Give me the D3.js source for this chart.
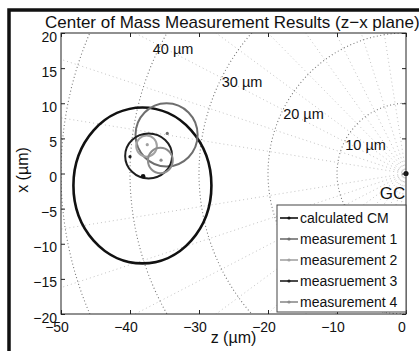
<!DOCTYPE html>
<html>
<head>
<meta charset="utf-8">
<script src="https://cdn.jsdelivr.net/npm/d3@7"></script>
<style>
  html, body { margin: 0; padding: 0; background: #fff; }
  svg { display: block; font-family: "Liberation Sans", Arial, sans-serif; }
</style>
</head>
<body>
<div class="cm-plot"></div>
<script>
// series (units: µm)
const seriesNames = ['calculated CM', 'measurement 1', 'measurement 2', 'measruement 3', 'measurement 4'];
const seriesColors = ['#111', '#6e6e6e', '#a2a2a2', '#1e1e1e', '#8c8c8c'];
const circleZ = [-38.2, -34.7, -37.6, -37.3, -35.6];
const circleX = [-1.7, 5.5, 3.9, 2.5, 1.85];
const radiusZ = [10.0, 4.5, 1.5, 3.4, 1.8];
const radiusX = [11.1, 4.5, 1.5, 3.2, 1.8];
const pointZ = [-38.1, -34.6, -37.5, -40.0, -35.5];
const pointX = [-0.4, 5.7, 4.1, 2.4, 1.9];

// distance rings around GC
const ringRadii = [10, 20, 30, 40, 50];
const ringLabels = ['10 µm', '20 µm', '30 µm', '40 µm'];
const ringLabelZ = [-8.8, -17.8, -26.7, -36.7];
const ringLabelX = [3.3, 7.7, 12.3, 17.0];
const spokeAngles = [-81, -72, -63, -54, -45, -36, -27, -18, -9, 9, 18, 27, 36, 45, 54, 63, 72, 81];

const zTicks = [-50, -40, -30, -20, -10, 0];
const xTicks = [-20, -15, -10, -5, 0, 5, 10, 15, 20];

const W = 419, H = 351;
const plotLeft = 61, plotRight = 406, plotTop = 33, plotBottom = 314;

const svg = d3.select('.cm-plot').append('svg')
  .attr('width', W).attr('height', H);

const zScale = d3.scaleLinear().domain([-50, 0]).range([plotLeft, plotRight]);
const xScale = d3.scaleLinear().domain([-20, 20]).range([plotBottom, plotTop]);
const kz = zScale(1) - zScale(0);
const kx = xScale(0) - xScale(1);

// outer figure frame (scan is cropped on right/bottom)
svg.append('rect')
  .attr('x', 9).attr('y', 10)
  .attr('width', W + 20).attr('height', H + 20)
  .attr('fill', '#fff').attr('stroke', '#111').attr('stroke-width', 3.5);

svg.append('defs').append('clipPath').attr('id', 'plotClip')
  .append('rect').attr('x', plotLeft).attr('y', plotTop)
  .attr('width', plotRight - plotLeft).attr('height', plotBottom - plotTop);

const grid = svg.append('g').attr('clip-path', 'url(#plotClip)');

grid.selectAll('line.spoke')
  .data(spokeAngles)
  .enter().append('line')
  .attr('class', 'spoke')
  .attr('x1', zScale(0)).attr('y1', xScale(0))
  .attr('x2', d => zScale(-80 * Math.cos(d * Math.PI / 180)))
  .attr('y2', d => xScale(80 * Math.sin(d * Math.PI / 180)))
  .attr('stroke', '#c4c4c4').attr('stroke-width', 1)
  .attr('stroke-dasharray', '1,3');

grid.selectAll('ellipse.ring')
  .data(ringRadii)
  .enter().append('ellipse')
  .attr('class', 'ring')
  .attr('cx', zScale(0)).attr('cy', xScale(0))
  .attr('rx', d => d * kz).attr('ry', d => d * kx)
  .attr('fill', 'none')
  .attr('stroke', '#777').attr('stroke-width', 1.1)
  .attr('stroke-dasharray', '1,2.5');

svg.selectAll('text.ringLabel')
  .data(ringLabels)
  .enter().append('text')
  .attr('class', 'ringLabel')
  .attr('x', (d, i) => zScale(ringLabelZ[i]))
  .attr('y', (d, i) => xScale(ringLabelX[i]))
  .attr('font-size', 14.5).attr('fill', '#111')
  .text(d => d);

// GC marker
svg.append('circle')
  .attr('cx', zScale(0)).attr('cy', xScale(0)).attr('r', 2.6)
  .attr('fill', '#111');
svg.append('text')
  .attr('x', zScale(-0.1)).attr('y', xScale(-3.6))
  .attr('text-anchor', 'end')
  .attr('font-size', 17).attr('fill', '#111')
  .text('GC');

// measurement circles
const marks = svg.append('g');
marks.selectAll('ellipse')
  .data(seriesNames)
  .enter().append('ellipse')
  .attr('cx', (d, i) => zScale(circleZ[i]))
  .attr('cy', (d, i) => xScale(circleX[i]))
  .attr('rx', (d, i) => radiusZ[i] * kz)
  .attr('ry', (d, i) => radiusX[i] * kx)
  .attr('fill', 'none')
  .attr('stroke', (d, i) => seriesColors[i])
  .attr('stroke-width', (d, i) => i === 0 ? 2.6 : 2);

marks.selectAll('circle')
  .data(seriesNames)
  .enter().append('circle')
  .attr('cx', (d, i) => zScale(pointZ[i]))
  .attr('cy', (d, i) => xScale(pointX[i]))
  .attr('r', (d, i) => i === 0 ? 2.3 : 1.6)
  .attr('fill', (d, i) => seriesColors[i]);

// axes box + ticks (MATLAB style, ticks inside)
const axisColor = '#222';
const tickLen = 4;

svg.append('rect')
  .attr('x', plotLeft).attr('y', plotTop)
  .attr('width', plotRight - plotLeft).attr('height', plotBottom - plotTop)
  .attr('fill', 'none').attr('stroke', axisColor).attr('stroke-width', 1);

const xAxisBottom = d3.axisBottom(zScale).tickValues(zTicks).tickSizeInner(-tickLen).tickSizeOuter(0).tickFormat('');
const xAxisTop = d3.axisTop(zScale).tickValues(zTicks).tickSizeInner(-tickLen).tickSizeOuter(0).tickFormat('');
const yAxisLeft = d3.axisLeft(xScale).tickValues(xTicks).tickSizeInner(-tickLen).tickSizeOuter(0).tickFormat('');
const yAxisRight = d3.axisRight(xScale).tickValues(xTicks).tickSizeInner(-tickLen).tickSizeOuter(0).tickFormat('');

[[xAxisBottom, `translate(0,${plotBottom})`], [xAxisTop, `translate(0,${plotTop})`],
 [yAxisLeft, `translate(${plotLeft},0)`], [yAxisRight, `translate(${plotRight},0)`]].forEach(([ax, tr]) => {
  const g = svg.append('g').attr('transform', tr).call(ax);
  g.select('.domain').remove();
  g.selectAll('line').attr('stroke', axisColor);
});

const fmt = v => (v < 0 ? '\u2212' : '') + Math.abs(v);

svg.selectAll('text.zTick')
  .data(zTicks)
  .enter().append('text')
  .attr('class', 'zTick')
  .attr('x', d => zScale(d) - 4)
  .attr('y', 332)
  .attr('text-anchor', 'middle')
  .attr('font-size', 14).attr('fill', '#111')
  .text(fmt);

svg.selectAll('text.xTick')
  .data(xTicks)
  .enter().append('text')
  .attr('class', 'xTick')
  .attr('x', 57)
  .attr('y', d => xScale(d) + 8.5)
  .attr('text-anchor', 'end')
  .attr('font-size', 14).attr('fill', '#111')
  .text(fmt);

svg.append('text')
  .attr('x', (plotLeft + plotRight) / 2).attr('y', 343)
  .attr('text-anchor', 'middle')
  .attr('font-size', 16).attr('fill', '#111')
  .text('z (µm)');

svg.append('text')
  .attr('transform', 'translate(28,170) rotate(-90)')
  .attr('text-anchor', 'middle')
  .attr('font-size', 16).attr('fill', '#111')
  .text('x (µm)');

// title runs off the right edge in the scan; squeeze to the same span
const title = svg.append('text')
  .attr('x', 45).attr('y', 28)
  .attr('font-size', 17).attr('fill', '#111')
  .text('Center of Mass Measurement Results (z\u2212x plane)');
if (title.node().getComputedTextLength() > 375) {
  title.attr('textLength', 375).attr('lengthAdjust', 'spacingAndGlyphs');
}

// legend
const legend = svg.append('g').attr('transform', 'translate(277,205)');
legend.append('rect')
  .attr('width', 129).attr('height', 107)
  .attr('fill', '#fff').attr('stroke', '#444').attr('stroke-width', 1);

const rows = legend.selectAll('g.row')
  .data(seriesNames)
  .enter().append('g')
  .attr('class', 'row')
  .attr('transform', (d, i) => `translate(0,${13 + i * 21})`);

rows.append('line')
  .attr('x1', 3).attr('x2', 21)
  .attr('stroke', (d, i) => seriesColors[i]).attr('stroke-width', 1.6);
rows.append('circle')
  .attr('cx', 12).attr('r', 1.6)
  .attr('fill', (d, i) => seriesColors[i]);
rows.append('text')
  .attr('x', 23).attr('y', 5)
  .attr('font-size', 14).attr('fill', '#111')
  .text(d => d);
</script>
</body>
</html>
